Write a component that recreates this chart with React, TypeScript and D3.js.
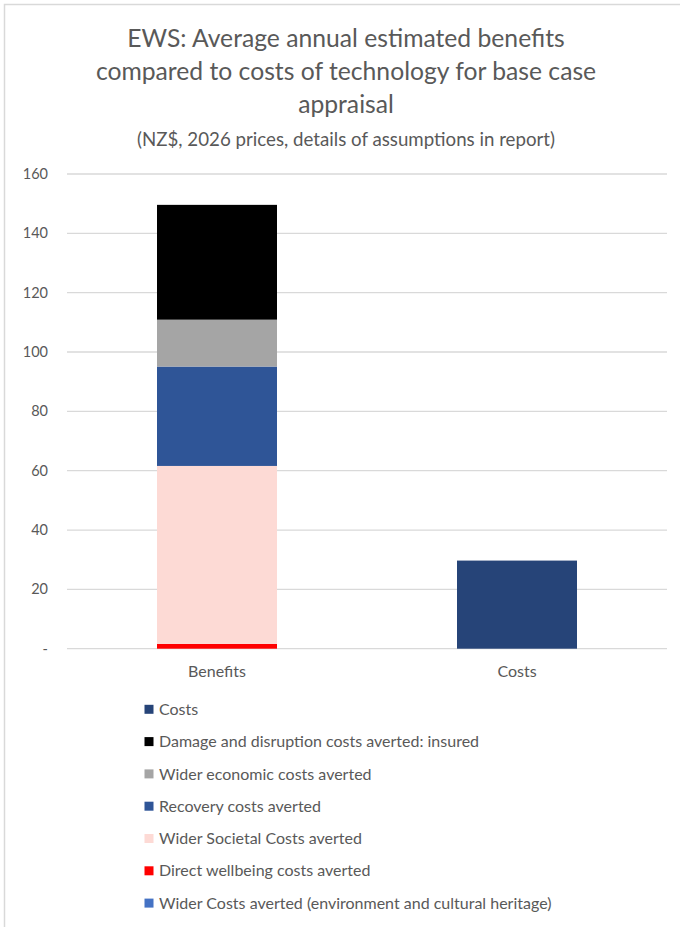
import React from "react";
import * as d3 from "d3";

const categories = ["Benefits", "Costs"];
const seriesNames = [
  "Wider Costs averted (environment and cultural heritage)",
  "Direct wellbeing costs averted",
  "Wider Societal Costs averted",
  "Recovery costs averted",
  "Wider economic costs averted",
  "Damage and disruption costs averted: insured",
  "Costs",
];
const seriesColors = ["#4472C4", "#FF0000", "#FDDAD5", "#2F5597", "#A5A5A5", "#000000", "#264478"];
// values per series: [Benefits, Costs]
const widerEnv = [0, 0];
const directWellbeing = [1.6, 0];
const widerSocietal = [60.0, 0];
const recovery = [33.5, 0];
const widerEconomic = [15.8, 0];
const damageInsured = [38.7, 0];
const costs = [0, 29.7];
const seriesValues = [widerEnv, directWellbeing, widerSocietal, recovery, widerEconomic, damageInsured, costs];
const yTicks = [0, 20, 40, 60, 80, 100, 120, 140, 160];
const titleLines = [
  "EWS: Average annual estimated benefits",
  "compared to costs of technology for base case",
  "appraisal",
];
const subtitle = "(NZ$, 2026 prices, details of assumptions in report)";

const W = 680;
const H = 927;
const FONT = "Lato, 'Open Sans', sans-serif";

export default function App() {
  const x = d3
    .scaleBand<string>()
    .domain(categories)
    .range([67, 667])
    .paddingInner(0.6)
    .paddingOuter(0.3);
  const y = d3.scaleLinear().domain([0, 160]).range([648.7, 174]);

  const rows = categories.map((c, i) => {
    const r: any = { category: c };
    seriesNames.forEach((s, k) => (r[s] = seriesValues[k][i]));
    return r;
  });
  const stack = d3.stack<any>().keys(seriesNames)(rows);

  const legendOrder = [...seriesNames].reverse();

  return (
    <svg width={W} height={H} style={{ position: "absolute", left: 0, top: 0, background: "#fff" }} fontFamily={FONT}>
      <rect x={4.5} y={4.5} width={W + 20} height={H + 20} fill="#fff" stroke="#D9D9D9" strokeWidth={1.5} />
      {titleLines.map((t, i) => (
        <text key={i} x={346} y={47 + i * 33} textAnchor="middle" fontSize={24.7} fill="#595959">
          {t}
        </text>
      ))}
      <text x={346} y={146} textAnchor="middle" fontSize={18.7} fill="#595959">
        {subtitle}
      </text>
      {yTicks.map((t) => (
        <g key={t}>
          <line x1={67} x2={667} y1={y(t)} y2={y(t)} stroke="#D9D9D9" strokeWidth={1.3} />
          <text x={48} y={y(t)} dy="0.35em" textAnchor="end" fontSize={14.5} fill="#595959">
            {t === 0 ? "-" : t}
          </text>
        </g>
      ))}
      {stack.map((layer, k) =>
        layer.map((d, i) =>
          d[1] - d[0] > 0 ? (
            <rect
              key={`${k}-${i}`}
              x={x(categories[i])}
              width={x.bandwidth()}
              y={y(d[1])}
              height={y(d[0]) - y(d[1])}
              fill={seriesColors[k]}
            />
          ) : null
        )
      )}
      {categories.map((c) => (
        <text key={c} x={(x(c) as number) + x.bandwidth() / 2} y={671} dy="0.35em" textAnchor="middle" fontSize={16} fill="#595959">
          {c}
        </text>
      ))}
      {legendOrder.map((s, i) => {
        const k = seriesNames.indexOf(s);
        const cy = 709.3 + i * 32.3;
        return (
          <g key={s}>
            <rect x={144.5} y={cy - 4.5} width={9} height={9} fill={seriesColors[k]} />
            <text x={159} y={cy} dy="0.35em" fontSize={16} fill="#595959">
              {s}
            </text>
          </g>
        );
      })}
    </svg>
  );
}
